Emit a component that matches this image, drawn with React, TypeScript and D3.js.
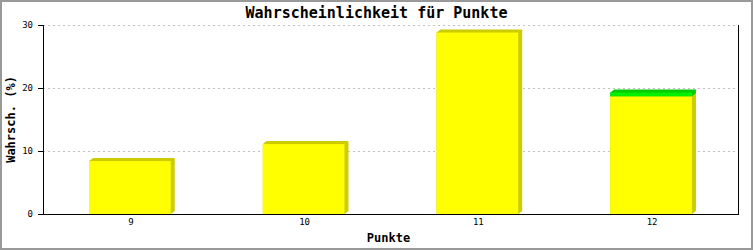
import React from "react";
import * as d3 from "d3";

const categories = ["9", "10", "11", "12"];
const yellowValues = [8.4, 11.1, 28.8, 18.7];
const greenValues = [0, 0, 0, 0.6];
const yTicks = [0, 10, 20, 30];
const title = "Wahrscheinlichkeit für Punkte";
const xTitle = "Punkte";
const yTitle = "Wahrsch. (%)";

const W = 753, H = 250;
const M = { left: 43, right: 15, top: 25, bottom: 36 };
const FONT = "'DejaVu Sans Mono', 'Liberation Mono', monospace";

export default function App() {
  const x = d3.scaleBand<string>().domain(categories).range([M.left, W - M.right]).paddingInner(0.53).paddingOuter(0.265);
  const y = d3.scaleLinear().domain([0, 30]).range([H - M.bottom, M.top]);
  const dx = 4, dy = 3;
  const bw = x.bandwidth();

  const bars: React.ReactNode[] = [];
  categories.forEach((c, i) => {
    const x0 = x(c)!;
    const segs = [
      { v0: 0, v1: yellowValues[i], fill: "#ffff00", shade: "#cccc00" },
      { v0: yellowValues[i], v1: yellowValues[i] + greenValues[i], fill: "#00ee00", shade: "#00cc00" },
    ];
    segs.forEach((s, j) => {
      if (s.v1 - s.v0 <= 0) return;
      const yt = y(s.v1), yb = y(s.v0);
      const pts = [
        [x0, yt], [x0 + dx, yt - dy], [x0 + bw + dx, yt - dy], [x0 + bw + dx, yb - dy], [x0 + bw, yb], [x0, yb],
      ].map(p => p.join(",")).join(" ");
      bars.push(<polygon key={`s${i}-${j}`} points={pts} fill={s.shade} />);
      bars.push(<rect key={`f${i}-${j}`} x={x0} y={yt} width={bw} height={yb - yt} fill={s.fill} />);
    });
  });

  return (
    <svg width={W} height={H} style={{ position: "absolute", left: 0, top: 0, background: "#fff" }}>
      <rect x={1} y={1} width={W - 2} height={H - 2} fill="#fff" stroke="#999" strokeWidth={2} />
      <text x={W / 2} y={18} textAnchor="middle" fontFamily={FONT} fontWeight="bold" fontSize={15}>{title}</text>
      {yTicks.filter(t => t > 0).map(t => (
        <line key={`g${t}`} x1={M.left} x2={W - M.right} y1={Math.round(y(t)) + 0.5} y2={Math.round(y(t)) + 0.5}
          stroke="#c0c0c0" strokeDasharray="2,3" />
      ))}
      {bars}
      {yTicks.map(t => (
        <g key={`t${t}`}>
          <line x1={M.left - 5} x2={M.left} y1={Math.round(y(t)) + 0.5} y2={Math.round(y(t)) + 0.5} stroke="#000" />
          <text x={M.left - 10} y={y(t) + 3} textAnchor="end" fontFamily={FONT} fontSize={9}>{t}</text>
        </g>
      ))}
      <line x1={M.left + 0.5} x2={M.left + 0.5} y1={M.top} y2={y(0)} stroke="#000" />
      <line x1={W - M.right + 0.5} x2={W - M.right + 0.5} y1={M.top} y2={y(0)} stroke="#000" />
      <line x1={M.left} x2={W - M.right + 1} y1={Math.round(y(0)) + 0.5} y2={Math.round(y(0)) + 0.5} stroke="#000" />
      {categories.map(c => (
        <text key={`x${c}`} x={x(c)! + bw / 2 + 1} y={225} textAnchor="middle" fontFamily={FONT} fontSize={9}>{c}</text>
      ))}
      <text x={W / 2 + 12} y={242} textAnchor="middle" fontFamily={FONT} fontWeight="bold" fontSize={12}>{xTitle}</text>
      <text transform={`translate(15,${(M.top + y(0)) / 2}) rotate(-90)`} textAnchor="middle" fontFamily={FONT} fontWeight="bold" fontSize={12}>{yTitle}</text>
    </svg>
  );
}
